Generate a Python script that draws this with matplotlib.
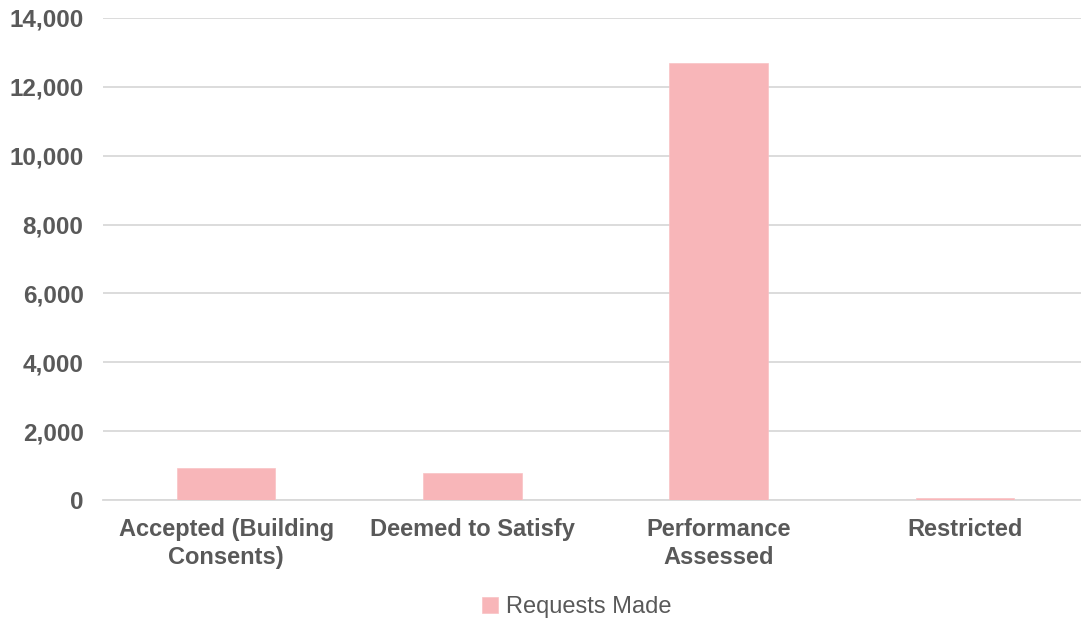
import numpy as np
import matplotlib.pyplot as plt
from matplotlib.ticker import FuncFormatter

# Requests by pathway
categories = ['Accepted (Building\nConsents)', 'Deemed to Satisfy', 'Performance\nAssessed', 'Restricted']
requests_made = [920, 775, 12680, 70]

plt.rcParams['font.family'] = ['Liberation Sans', 'DejaVu Sans']

fig = plt.figure(figsize=(10.81, 6.21), dpi=100)
ax = fig.add_axes([103 / 1081, 1 - 500 / 621, 1 - 103 / 1081, (500 - 18) / 621])

x = np.arange(len(categories))
ax.bar(x, requests_made, width=0.4, color='#f8b6b9', edgecolor='#f9c2c5',
       linewidth=0.5, label='Requests Made', zorder=3)

ax.set_ylim(0, 14000)
ax.set_xlim(-0.5, 3.472)
ax.set_yticks(np.arange(0, 14001, 2000))
ax.yaxis.set_major_formatter(FuncFormatter(lambda v, p: f'{int(v):,}'))
ax.grid(axis='y', color='#d9d9d9', linewidth=1.3, zorder=0)

ax.set_xticks(x)
ax.set_xticklabels(categories, fontsize=17, fontweight='bold', color='#595959',
                   linespacing=1.3)
for lbl in ax.get_yticklabels():
    lbl.set_fontsize(17.5)
    lbl.set_fontweight('bold')
    lbl.set_color('#595959')

ax.tick_params(axis='both', length=0)
ax.tick_params(axis='x', pad=13)
ax.tick_params(axis='y', pad=14)
for side in ['top', 'right', 'left']:
    ax.spines[side].set_visible(False)
ax.spines['bottom'].set_color('#d9d9d9')
ax.spines['bottom'].set_linewidth(1.3)

fig.legend(loc='center', bbox_to_anchor=(577 / 1081, 1 - 607 / 621), frameon=False,
           fontsize=17, labelcolor='#595959', handlelength=0.65, handleheight=0.65,
           handletextpad=0.35)

fig.savefig('out.png', dpi=100)
